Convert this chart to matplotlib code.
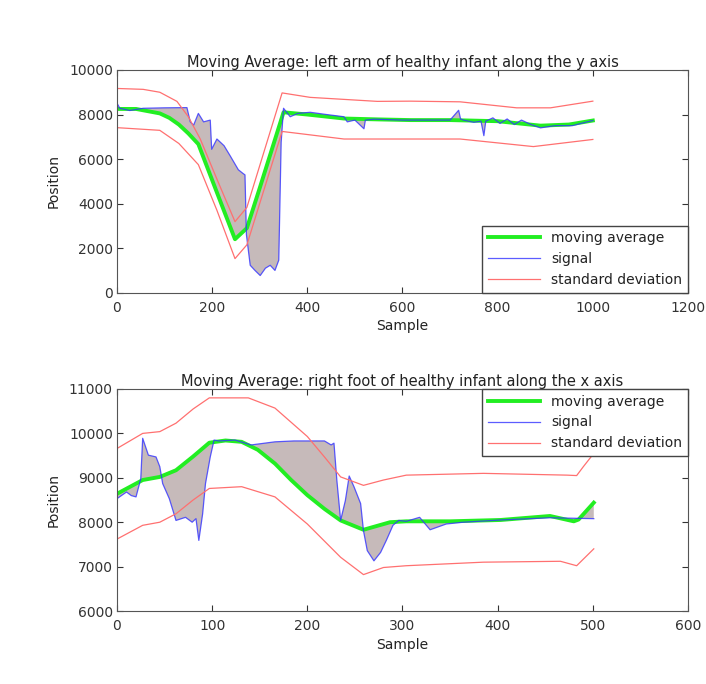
import numpy as np
import matplotlib.pyplot as plt

# left arm, y axis
arm_sig_x = [0, 6, 27, 55, 100, 147, 154, 161, 171, 182, 196, 199, 210, 225, 238, 255, 265, 269,
             272, 280, 290, 301, 312, 322, 332, 340, 345, 350, 364, 380, 406, 440, 477, 484, 500,
             519, 522, 540, 600, 650, 700, 718, 722, 728, 750, 765, 771, 775, 790, 805, 820, 835,
             850, 870, 890, 920, 957, 975, 1000]
arm_sig_y = [8510, 8280, 8180, 8280, 8300, 8310, 7670, 7520, 8050, 7670, 7750, 6440, 6900, 6600,
             6140, 5520, 5350, 5290, 2610, 1230, 1000, 770, 1100, 1230, 1000, 1460, 6750, 8280,
             7900, 8050, 8100, 8000, 7900, 7670, 7750, 7360, 7750, 7790, 7750, 7750, 7750, 8190,
             7800, 7750, 7650, 7700, 7050, 7700, 7850, 7600, 7800, 7550, 7750, 7550, 7400, 7500,
             7500, 7600, 7730]
arm_ma_x = [0, 40, 90, 110, 130, 150, 171, 210, 248, 273, 300, 350, 400, 477, 550, 617, 700, 800,
            890, 950, 1000]
arm_ma_y = [8250, 8250, 8050, 7850, 7550, 7150, 6670, 4500, 2400, 2900, 4700, 8100, 8000, 7820,
            7780, 7750, 7750, 7700, 7500, 7550, 7730]
arm_up_x = [0, 55, 90, 126, 150, 175, 210, 248, 273, 347, 406, 547, 617, 721, 840, 911, 1000]
arm_up_y = [9170, 9130, 9000, 8590, 7900, 6900, 5100, 3190, 3830, 8970, 8770, 8590, 8600, 8570,
            8300, 8300, 8600]
arm_lo_x = [0, 90, 130, 171, 210, 248, 273, 347, 477, 617, 721, 875, 1000]
arm_lo_y = [7410, 7290, 6700, 5750, 3700, 1530, 2150, 7240, 6900, 6900, 6900, 6560, 6880]

# right foot, x axis
foot_sig_x = [0, 10, 15, 20, 25, 27, 33, 41, 45, 48, 55, 62, 72, 79, 83, 86, 90, 93, 98, 102, 107,
              124, 141, 166, 186, 218, 225, 228, 231, 235, 240, 244, 249, 256, 259, 263, 270, 277,
              283, 290, 296, 304, 318, 329, 346, 364, 403, 455, 501]
foot_sig_y = [8530, 8680, 8600, 8570, 8980, 9890, 9510, 9470, 9250, 8870, 8530, 8040, 8110, 8000,
              8080, 7590, 8190, 8870, 9470, 9850, 9830, 9850, 9740, 9810, 9830, 9830, 9740, 9780,
              8950, 8040, 8490, 9040, 8800, 8420, 7810, 7360, 7130, 7320, 7590, 7930, 8040, 8020,
              8110, 7830, 7960, 8000, 8050, 8100, 8080]
foot_ma_x = [0, 27, 45, 62, 80, 97, 114, 131, 148, 166, 183, 200, 218, 235, 259, 287, 304, 350,
             403, 455, 480, 485, 501]
foot_ma_y = [8640, 8950, 9020, 9170, 9480, 9790, 9840, 9810, 9630, 9320, 8950, 8610, 8300, 8040,
             7830, 8000, 8020, 8020, 8050, 8140, 8020, 8060, 8440]
foot_up_x = [0, 27, 45, 62, 80, 97, 138, 166, 200, 218, 235, 259, 280, 304, 385, 473, 483, 490, 501]
foot_up_y = [9660, 10000, 10040, 10230, 10550, 10800, 10800, 10570, 9930, 9470, 9020, 8830, 8950,
             9060, 9100, 9060, 9050, 9250, 9550]
foot_lo_x = [0, 27, 45, 62, 80, 97, 131, 166, 200, 235, 259, 280, 304, 385, 466, 483, 501]
foot_lo_y = [7620, 7930, 8000, 8190, 8500, 8760, 8800, 8570, 7960, 7210, 6820, 6980, 7020, 7100,
             7120, 7020, 7400]

plt.rcParams['font.size'] = 10
plt.rcParams['text.color'] = '#222222'
plt.rcParams['axes.labelcolor'] = '#222222'

fig = plt.figure(figsize=(7.06, 6.84), dpi=100)
ax1 = fig.add_axes([0.1657, 0.5721, 0.8088, 0.3256])
ax2 = fig.add_axes([0.1657, 0.1067, 0.8088, 0.3246])


def draw(ax, sx, sy, mx, my, ux, uy, lx, ly):
    # shaded area between the signal and its moving average
    px = np.concatenate([sx, mx[::-1]])
    py = np.concatenate([sy, my[::-1]])
    ax.fill(px, py, color='#c6baba', lw=0)
    ax.plot(mx, my, color='#22ee22', lw=2.8, label='moving average')
    ax.plot(sx, sy, color='#3333ff', lw=0.9, alpha=0.8, label='signal')
    ax.plot(ux, uy, color='#ff7070', lw=0.9, label='standard deviation')
    ax.plot(lx, ly, color='#ff7070', lw=0.9)
    ax.tick_params(direction='in', top=True, right=True, length=4, colors='#333333',
                   labelsize=10, pad=6)
    for s in ax.spines.values():
        s.set_color('#555555')
    ax.set_xlabel('Sample', labelpad=3)
    ax.set_ylabel('Position', labelpad=6)


draw(ax1, np.array(arm_sig_x), np.array(arm_sig_y), np.array(arm_ma_x), np.array(arm_ma_y),
     arm_up_x, arm_up_y, arm_lo_x, arm_lo_y)
ax1.set_xlim(0, 1200)
ax1.set_ylim(0, 10000)
ax1.tick_params(axis='y', pad=3)
ax1.set_title('Moving Average: left arm of healthy infant along the y axis', fontsize=10.5, pad=2)
ax1.legend(loc='lower right', borderaxespad=0, fancybox=False, handlelength=3.8,
           framealpha=1, edgecolor='#444444')

draw(ax2, np.array(foot_sig_x), np.array(foot_sig_y), np.array(foot_ma_x), np.array(foot_ma_y),
     foot_up_x, foot_up_y, foot_lo_x, foot_lo_y)
ax2.set_xlim(0, 600)
ax2.set_ylim(6000, 11000)
ax2.tick_params(axis='y', pad=3)
ax2.set_title('Moving Average: right foot of healthy infant along the x axis', fontsize=10.5, pad=2)
ax2.legend(loc='upper right', borderaxespad=0, fancybox=False, handlelength=3.8,
           framealpha=1, edgecolor='#444444')

fig.savefig('out.png', dpi=100)
